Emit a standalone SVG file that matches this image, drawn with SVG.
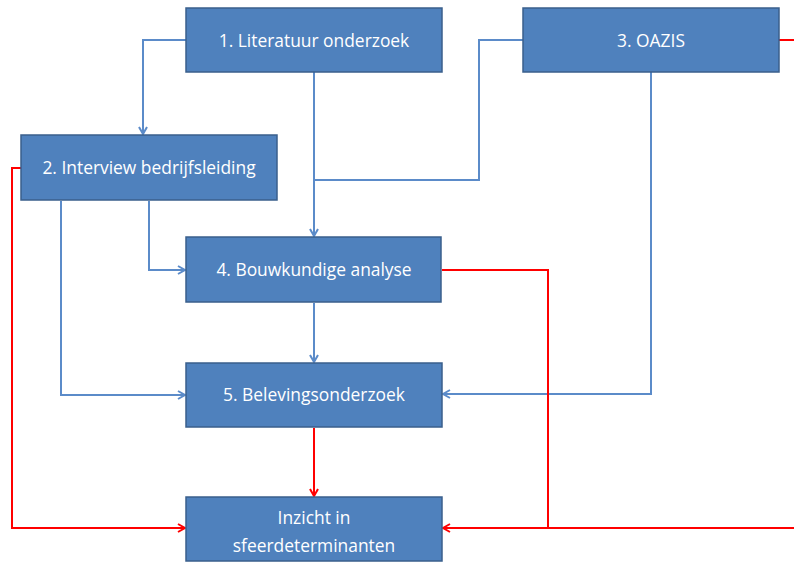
<svg xmlns="http://www.w3.org/2000/svg" width="794" height="563" viewBox="0 0 794 563">
<style>
.box{fill:#4F81BD;stroke:#3A5F8C;stroke-width:1.5}
.t{font-family:"Open Sans","Liberation Sans",sans-serif;font-size:17.4px;fill:#FFFFFF;text-anchor:middle}
.b{fill:none;stroke:#5B8BC9;stroke-width:2}
.r{fill:none;stroke:#FF0000;stroke-width:2}
</style>
<defs>
<marker id="ab" markerWidth="10" markerHeight="10" refX="8" refY="5" orient="auto" markerUnits="userSpaceOnUse">
<path d="M1,1 L8,5 L1,9" fill="none" stroke="#5B8BC9" stroke-width="2"/>
</marker>
<marker id="ar" markerWidth="10" markerHeight="10" refX="8" refY="5" orient="auto" markerUnits="userSpaceOnUse">
<path d="M1,1 L8,5 L1,9" fill="none" stroke="#FF0000" stroke-width="2"/>
</marker>
</defs>
<rect width="794" height="563" fill="#FFFFFF"/>
<g id="connectors">
<path class="b" d="M186,40 H143 V134" marker-end="url(#ab)"/>
<path class="b" d="M314,72 V236" marker-end="url(#ab)"/>
<path class="b" d="M523,40 H479 V180 H314"/>
<path class="b" d="M61,201 V395 H185" marker-end="url(#ab)"/>
<path class="b" d="M149,201 V270 H185" marker-end="url(#ab)"/>
<path class="b" d="M314,303 V362" marker-end="url(#ab)"/>
<path class="b" d="M651,72 V394 H443" marker-end="url(#ab)"/>
<path class="r" d="M21,168 H12 V528 H185" marker-end="url(#ar)"/>
<path class="r" d="M314,428 V496" marker-end="url(#ar)"/>
<path class="r" d="M442,270 H548 V528 H443" marker-end="url(#ar)"/>
<path class="r" d="M794,528 H548"/>
<path class="r" d="M779,40 H794"/>
</g>
<g id="n1"><rect class="box" x="186" y="8" width="256" height="64"/><text class="t" x="314" y="47">1. Literatuur onderzoek</text></g>
<g id="n2"><rect class="box" x="21" y="135" width="256" height="65"/><text class="t" x="149" y="174">2. Interview bedrijfsleiding</text></g>
<g id="n3"><rect class="box" x="523" y="8" width="256" height="64"/><text class="t" x="651" y="47">3. OAZIS</text></g>
<g id="n4"><rect class="box" x="186" y="237" width="255" height="65"/><text class="t" x="314" y="276">4. Bouwkundige analyse</text></g>
<g id="n5"><rect class="box" x="186" y="363" width="256" height="64"/><text class="t" x="314" y="401">5. Belevingsonderzoek</text></g>
<g id="n6"><rect class="box" x="186" y="497" width="256" height="64"/><text class="t" x="314" y="524">Inzicht in</text><text class="t" x="314" y="552">sfeerdeterminanten</text></g>
</svg>
